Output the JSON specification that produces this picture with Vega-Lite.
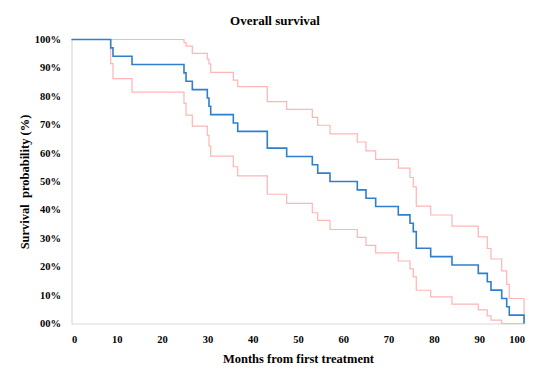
{
  "$schema": "https://vega.github.io/schema/vega-lite/v6.json",
  "width": 453,
  "height": 284,
  "autosize": {"type": "none"},
  "padding": {"left": 71.5, "top": 39.5, "right": 25.5, "bottom": 58.7},
  "background": "white",
  "title": {
    "text": "Overall survival",
    "font": "Liberation Serif",
    "fontSize": 13,
    "fontWeight": "bold",
    "color": "black",
    "anchor": "middle",
    "dx": -23,
    "offset": 6
  },
  "data": {
    "values": [
      {"series": "km", "month": 0, "surv": 1},
      {"series": "km", "month": 8.65, "surv": 0.9706},
      {"series": "km", "month": 9.16, "surv": 0.9412},
      {"series": "km", "month": 13.36, "surv": 0.9118},
      {"series": "km", "month": 24.83, "surv": 0.8824},
      {"series": "km", "month": 25.28, "surv": 0.8529},
      {"series": "km", "month": 26.67, "surv": 0.8235},
      {"series": "km", "month": 29.98, "surv": 0.7941},
      {"series": "km", "month": 30.35, "surv": 0.7647},
      {"series": "km", "month": 30.73, "surv": 0.7353},
      {"series": "km", "month": 35.72, "surv": 0.7059},
      {"series": "km", "month": 36.69, "surv": 0.6765},
      {"series": "km", "month": 43.22, "surv": 0.6176},
      {"series": "km", "month": 47.5, "surv": 0.5882},
      {"series": "km", "month": 53.16, "surv": 0.5588},
      {"series": "km", "month": 54.35, "surv": 0.5294},
      {"series": "km", "month": 57.06, "surv": 0.5},
      {"series": "km", "month": 63.09, "surv": 0.4706},
      {"series": "km", "month": 65.01, "surv": 0.4412},
      {"series": "km", "month": 67.15, "surv": 0.4118},
      {"series": "km", "month": 72.14, "surv": 0.3824},
      {"series": "km", "month": 74.72, "surv": 0.3529},
      {"series": "km", "month": 75.45, "surv": 0.3235},
      {"series": "km", "month": 76.11, "surv": 0.2647},
      {"series": "km", "month": 79.29, "surv": 0.2353},
      {"series": "km", "month": 83.99, "surv": 0.2059},
      {"series": "km", "month": 89.8, "surv": 0.1765},
      {"series": "km", "month": 91.79, "surv": 0.1471},
      {"series": "km", "month": 92.6, "surv": 0.1176},
      {"series": "km", "month": 94.97, "surv": 0.0882},
      {"series": "km", "month": 96.07, "surv": 0.0588},
      {"series": "km", "month": 96.64, "surv": 0.0294},
      {"series": "km", "month": 99.9, "surv": 0},

      {"series": "upper", "month": 0, "surv": 1},
      {"series": "upper", "month": 24.83, "surv": 0.989},
      {"series": "upper", "month": 25.28, "surv": 0.977},
      {"series": "upper", "month": 26.67, "surv": 0.951},
      {"series": "upper", "month": 29.98, "surv": 0.931},
      {"series": "upper", "month": 30.35, "surv": 0.914},
      {"series": "upper", "month": 30.73, "surv": 0.884},
      {"series": "upper", "month": 35.72, "surv": 0.857},
      {"series": "upper", "month": 36.69, "surv": 0.834},
      {"series": "upper", "month": 43.22, "surv": 0.781},
      {"series": "upper", "month": 47.5, "surv": 0.754},
      {"series": "upper", "month": 53.16, "surv": 0.726},
      {"series": "upper", "month": 54.35, "surv": 0.698},
      {"series": "upper", "month": 57.06, "surv": 0.668},
      {"series": "upper", "month": 63.09, "surv": 0.639},
      {"series": "upper", "month": 65.01, "surv": 0.608},
      {"series": "upper", "month": 67.15, "surv": 0.578},
      {"series": "upper", "month": 72.14, "surv": 0.547},
      {"series": "upper", "month": 74.72, "surv": 0.514},
      {"series": "upper", "month": 75.45, "surv": 0.481},
      {"series": "upper", "month": 76.11, "surv": 0.413},
      {"series": "upper", "month": 79.29, "surv": 0.382},
      {"series": "upper", "month": 83.99, "surv": 0.343},
      {"series": "upper", "month": 89.8, "surv": 0.305},
      {"series": "upper", "month": 91.79, "surv": 0.264},
      {"series": "upper", "month": 92.6, "surv": 0.227},
      {"series": "upper", "month": 94.97, "surv": 0.185},
      {"series": "upper", "month": 96.07, "surv": 0.138},
      {"series": "upper", "month": 96.64, "surv": 0.088},
      {"series": "upper", "month": 99.9, "surv": 0},

      {"series": "lower", "month": 0, "surv": 1},
      {"series": "lower", "month": 8.65, "surv": 0.915},
      {"series": "lower", "month": 9.16, "surv": 0.862},
      {"series": "lower", "month": 13.36, "surv": 0.815},
      {"series": "lower", "month": 24.83, "surv": 0.775},
      {"series": "lower", "month": 25.28, "surv": 0.734},
      {"series": "lower", "month": 26.67, "surv": 0.695},
      {"series": "lower", "month": 29.98, "surv": 0.663},
      {"series": "lower", "month": 30.35, "surv": 0.625},
      {"series": "lower", "month": 30.73, "surv": 0.589},
      {"series": "lower", "month": 35.72, "surv": 0.552},
      {"series": "lower", "month": 36.69, "surv": 0.52},
      {"series": "lower", "month": 43.22, "surv": 0.455},
      {"series": "lower", "month": 47.5, "surv": 0.423},
      {"series": "lower", "month": 53.16, "surv": 0.39},
      {"series": "lower", "month": 54.35, "surv": 0.363},
      {"series": "lower", "month": 57.06, "surv": 0.331},
      {"series": "lower", "month": 63.09, "surv": 0.303},
      {"series": "lower", "month": 65.01, "surv": 0.275},
      {"series": "lower", "month": 67.15, "surv": 0.249},
      {"series": "lower", "month": 72.14, "surv": 0.22},
      {"series": "lower", "month": 74.72, "surv": 0.192},
      {"series": "lower", "month": 75.45, "surv": 0.164},
      {"series": "lower", "month": 76.11, "surv": 0.117},
      {"series": "lower", "month": 79.29, "surv": 0.094},
      {"series": "lower", "month": 83.99, "surv": 0.068},
      {"series": "lower", "month": 89.8, "surv": 0.048},
      {"series": "lower", "month": 91.79, "surv": 0.027},
      {"series": "lower", "month": 92.6, "surv": 0.012},
      {"series": "lower", "month": 94.97, "surv": 0},
      {"series": "lower", "month": 99.9, "surv": 0}
    ]
  },
  "encoding": {
    "x": {
      "field": "month",
      "type": "quantitative",
      "scale": {"domain": [0, 100], "nice": false, "zero": true},
      "axis": {
        "values": [0, 10, 20, 30, 40, 50, 60, 70, 80, 90, 100],
        "title": "Months from first treatment",
        "labelPadding": 11,
        "titlePadding": 8
      }
    },
    "y": {
      "field": "surv",
      "type": "quantitative",
      "scale": {"domain": [0, 1], "nice": false},
      "axis": {
        "values": [0, 0.1, 0.2, 0.3, 0.4, 0.5, 0.6, 0.7, 0.8, 0.9, 1],
        "format": "03.0%",
        "title": "Survival\u00a0 probability (%)",
        "labelPadding": 11,
        "titlePadding": 3
      }
    }
  },
  "layer": [
    {
      "transform": [{"filter": "datum.series !== 'km'"}],
      "mark": {"type": "line", "interpolate": "step-after", "color": "#FFB5B5", "strokeWidth": 1.2},
      "encoding": {"detail": {"field": "series", "type": "nominal"}}
    },
    {
      "transform": [{"filter": "datum.series === 'km'"}],
      "mark": {"type": "line", "interpolate": "step-after", "color": "#2F7FCD", "strokeWidth": 1.6},
      "encoding": {}
    }
  ],
  "config": {
    "view": {"stroke": null},
    "axis": {
      "domainColor": "#D9D9D9",
      "domainWidth": 1.2,
      "ticks": false,
      "grid": false,
      "labelFont": "Liberation Serif",
      "labelFontWeight": "bold",
      "labelFontSize": 10.5,
      "labelColor": "black",
      "titleFont": "Liberation Serif",
      "titleFontWeight": "bold",
      "titleFontSize": 12.5,
      "titleColor": "black"
    }
  }
}
